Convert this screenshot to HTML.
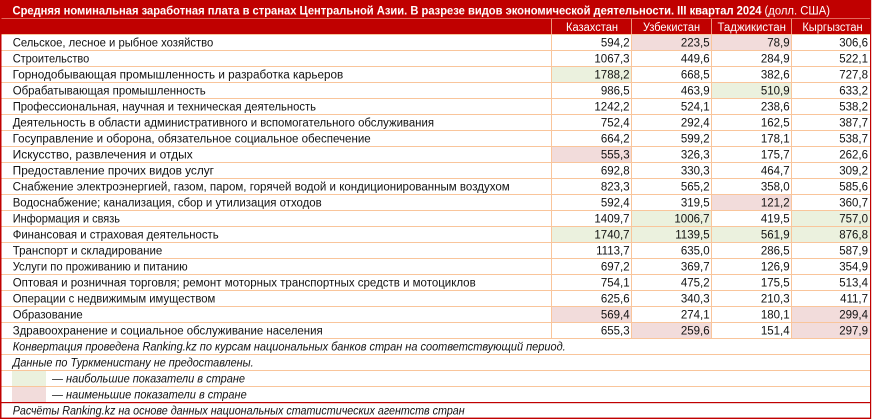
<!DOCTYPE html>
<html>
<head>
<meta charset="utf-8">
<style>
  html,body{margin:0;padding:0;background:#fff;}
  body{width:872px;height:419px;overflow:hidden;}
  svg{display:block;}
  text{font-family:"Liberation Sans","DejaVu Sans",sans-serif;font-size:11.5px;fill:#111;}
  .t{fill:#fff;font-weight:bold;}
  .tr{fill:#fff;font-weight:normal;}
  .h{fill:#fff;}
  .n{text-anchor:end;}
  .i{font-style:italic;}
</style>
</head>
<body>
<svg width="872" height="419" viewBox="0 0 872 419" xmlns="http://www.w3.org/2000/svg">
  <!-- background -->
  <rect x="0" y="0" width="872" height="419" fill="#fff"/>
  <!-- title + header -->
  <rect x="0" y="0" width="871" height="34" fill="#C00000"/>
  <rect x="0" y="18" width="871" height="1" fill="#E36C5E"/>
  <!-- header vertical separators -->
  <rect x="551" y="19" width="1" height="15" fill="#EE9A80"/>
  <rect x="631" y="19" width="1" height="15" fill="#EE9A80"/>
  <rect x="711" y="19" width="1" height="15" fill="#EE9A80"/>
  <rect x="791" y="19" width="1" height="15" fill="#EE9A80"/>

  <!-- highlighted cells -->
  <g>
    <!-- row 0 -->
    <rect x="632" y="35" width="79" height="15" fill="#F2DCDB"/>
    <rect x="712" y="35" width="79" height="15" fill="#F2DCDB"/>
    <!-- row 2 -->
    <rect x="552" y="67" width="79" height="15" fill="#EBF1DE"/>
    <!-- row 3 -->
    <rect x="712" y="83" width="79" height="15" fill="#EBF1DE"/>
    <!-- row 7 -->
    <rect x="552" y="147" width="79" height="15" fill="#F2DCDB"/>
    <!-- row 10 -->
    <rect x="712" y="195" width="79" height="15" fill="#F2DCDB"/>
    <!-- row 11 -->
    <rect x="632" y="211" width="79" height="15" fill="#EBF1DE"/>
    <rect x="792" y="211" width="78" height="15" fill="#EBF1DE"/>
    <!-- row 12 -->
    <rect x="552" y="227" width="79" height="15" fill="#EBF1DE"/>
    <rect x="632" y="227" width="79" height="15" fill="#EBF1DE"/>
    <rect x="712" y="227" width="79" height="15" fill="#EBF1DE"/>
    <rect x="792" y="227" width="78" height="15" fill="#EBF1DE"/>
    <!-- row 17 -->
    <rect x="552" y="307" width="79" height="15" fill="#F2DCDB"/>
    <rect x="792" y="307" width="78" height="15" fill="#F2DCDB"/>
    <!-- row 18 -->
    <rect x="632" y="323" width="79" height="15" fill="#F2DCDB"/>
    <rect x="792" y="323" width="78" height="15" fill="#F2DCDB"/>
    <!-- legend boxes -->
    <rect x="12" y="371" width="34" height="15" fill="#EBF1DE"/>
    <rect x="12" y="387" width="34" height="15" fill="#F2DCDB"/>
  </g>

  <!-- horizontal grid lines -->
  <g fill="#F9C59B">
    <rect x="0" y="34" width="870" height="1"/>
    <rect x="0" y="50" width="870" height="1"/>
    <rect x="0" y="66" width="870" height="1"/>
    <rect x="0" y="82" width="870" height="1"/>
    <rect x="0" y="98" width="870" height="1"/>
    <rect x="0" y="114" width="870" height="1"/>
    <rect x="0" y="130" width="870" height="1"/>
    <rect x="0" y="146" width="870" height="1"/>
    <rect x="0" y="162" width="870" height="1"/>
    <rect x="0" y="178" width="870" height="1"/>
    <rect x="0" y="194" width="870" height="1"/>
    <rect x="0" y="210" width="870" height="1"/>
    <rect x="0" y="226" width="870" height="1"/>
    <rect x="0" y="242" width="870" height="1"/>
    <rect x="0" y="258" width="870" height="1"/>
    <rect x="0" y="274" width="870" height="1"/>
    <rect x="0" y="290" width="870" height="1"/>
    <rect x="0" y="306" width="870" height="1"/>
    <rect x="0" y="322" width="870" height="1"/>
    <rect x="0" y="338" width="870" height="1"/>
    <rect x="0" y="354" width="870" height="1"/>
    <rect x="0" y="370" width="870" height="1"/>
    <rect x="0" y="386" width="870" height="1"/>
  </g>
  <!-- vertical grid lines (data) -->
  <g fill="#F9C59B">
    <rect x="551" y="34" width="1" height="305"/>
    <rect x="631" y="34" width="1" height="305"/>
    <rect x="711" y="34" width="1" height="305"/>
    <rect x="791" y="34" width="1" height="305"/>
  </g>
  <!-- red borders -->
  <g fill="#C00000">
    <rect x="0" y="0" width="1.5" height="419"/>
    <rect x="870" y="0" width="1.2" height="419"/>
    <rect x="0" y="402" width="871" height="1.2"/>
    <rect x="0" y="417.6" width="871" height="1.4"/>
  </g>

  <!-- title -->
  <text class="t" x="12.5" y="14.5" textLength="749" lengthAdjust="spacingAndGlyphs">Средняя номинальная заработная плата в странах Центральной Азии. В разрезе видов экономической деятельности. III квартал 2024</text>
  <text class="tr" x="764.5" y="14.5" textLength="65.5" lengthAdjust="spacingAndGlyphs">(долл. США)</text>

  <!-- header -->
  <text class="h" x="592" y="31" text-anchor="middle" textLength="52" lengthAdjust="spacingAndGlyphs">Казахстан</text>
  <text class="h" x="671.5" y="31" text-anchor="middle" textLength="57" lengthAdjust="spacingAndGlyphs">Узбекистан</text>
  <text class="h" x="751.7" y="31" text-anchor="middle" textLength="68.5" lengthAdjust="spacingAndGlyphs">Таджикистан</text>
  <text class="h" x="832.5" y="31" text-anchor="middle" textLength="60.3" lengthAdjust="spacingAndGlyphs">Кыргызстан</text>

  <!-- labels -->
  <g>
    <text x="12.7" y="46.3" textLength="200.6" lengthAdjust="spacingAndGlyphs">Сельское, лесное и рыбное хозяйство</text>
    <text x="12.7" y="62.3" textLength="76.6" lengthAdjust="spacingAndGlyphs">Строительство</text>
    <text x="12.7" y="78.3" textLength="330.6" lengthAdjust="spacingAndGlyphs">Горнодобывающая промышленность и разработка карьеров</text>
    <text x="12.7" y="94.3" textLength="193" lengthAdjust="spacingAndGlyphs">Обрабатывающая промышленность</text>
    <text x="12.7" y="110.3" textLength="303.3" lengthAdjust="spacingAndGlyphs">Профессиональная, научная и техническая деятельность</text>
    <text x="12.7" y="126.3" textLength="421.3" lengthAdjust="spacingAndGlyphs">Деятельность в области административного и вспомогательного обслуживания</text>
    <text x="12.7" y="142.3" textLength="358" lengthAdjust="spacingAndGlyphs">Госуправление и оборона, обязательное социальное обеспечение</text>
    <text x="12.7" y="158.3" textLength="180" lengthAdjust="spacingAndGlyphs">Искусство, развлечения и отдых</text>
    <text x="12.7" y="174.3" textLength="201.3" lengthAdjust="spacingAndGlyphs">Предоставление прочих видов услуг</text>
    <text x="12.7" y="190.3" textLength="497" lengthAdjust="spacingAndGlyphs">Снабжение электроэнергией, газом, паром, горячей водой и кондиционированным воздухом</text>
    <text x="12.7" y="206.3" textLength="309" lengthAdjust="spacingAndGlyphs">Водоснабжение; канализация, сбор и утилизация отходов</text>
    <text x="12.7" y="222.3" textLength="107.3" lengthAdjust="spacingAndGlyphs">Информация и связь</text>
    <text x="12.7" y="238.3" textLength="206" lengthAdjust="spacingAndGlyphs">Финансовая и страховая деятельность</text>
    <text x="12.7" y="254.3" textLength="149.6" lengthAdjust="spacingAndGlyphs">Транспорт и складирование</text>
    <text x="12.7" y="270.3" textLength="175" lengthAdjust="spacingAndGlyphs">Услуги по проживанию и питанию</text>
    <text x="12.7" y="286.3" textLength="463" lengthAdjust="spacingAndGlyphs">Оптовая и розничная торговля; ремонт моторных транспортных средств и мотоциклов</text>
    <text x="12.7" y="302.3" textLength="202.6" lengthAdjust="spacingAndGlyphs">Операции с недвижимым имуществом</text>
    <text x="12.7" y="318.3" textLength="70" lengthAdjust="spacingAndGlyphs">Образование</text>
    <text x="12.7" y="334.3" textLength="310" lengthAdjust="spacingAndGlyphs">Здравоохранение и социальное обслуживание населения</text>
  </g>

  <!-- numbers: Kazakhstan -->
  <g class="n">
    <text class="n" x="629.6" y="46.3">594,2</text>
    <text class="n" x="629.6" y="62.3">1067,3</text>
    <text class="n" x="629.6" y="78.3">1788,2</text>
    <text class="n" x="629.6" y="94.3">986,5</text>
    <text class="n" x="629.6" y="110.3">1242,2</text>
    <text class="n" x="629.6" y="126.3">752,4</text>
    <text class="n" x="629.6" y="142.3">664,2</text>
    <text class="n" x="629.6" y="158.3">555,3</text>
    <text class="n" x="629.6" y="174.3">692,8</text>
    <text class="n" x="629.6" y="190.3">823,3</text>
    <text class="n" x="629.6" y="206.3">592,4</text>
    <text class="n" x="629.6" y="222.3">1409,7</text>
    <text class="n" x="629.6" y="238.3">1740,7</text>
    <text class="n" x="629.6" y="254.3">1113,7</text>
    <text class="n" x="629.6" y="270.3">697,2</text>
    <text class="n" x="629.6" y="286.3">754,1</text>
    <text class="n" x="629.6" y="302.3">625,6</text>
    <text class="n" x="629.6" y="318.3">569,4</text>
    <text class="n" x="629.6" y="334.3">655,3</text>
  </g>
  <!-- Uzbekistan -->
  <g>
    <text class="n" x="709.6" y="46.3">223,5</text>
    <text class="n" x="709.6" y="62.3">449,6</text>
    <text class="n" x="709.6" y="78.3">668,5</text>
    <text class="n" x="709.6" y="94.3">463,9</text>
    <text class="n" x="709.6" y="110.3">524,1</text>
    <text class="n" x="709.6" y="126.3">292,4</text>
    <text class="n" x="709.6" y="142.3">599,2</text>
    <text class="n" x="709.6" y="158.3">326,3</text>
    <text class="n" x="709.6" y="174.3">330,3</text>
    <text class="n" x="709.6" y="190.3">565,2</text>
    <text class="n" x="709.6" y="206.3">319,5</text>
    <text class="n" x="709.6" y="222.3">1006,7</text>
    <text class="n" x="709.6" y="238.3">1139,5</text>
    <text class="n" x="709.6" y="254.3">635,0</text>
    <text class="n" x="709.6" y="270.3">369,7</text>
    <text class="n" x="709.6" y="286.3">475,2</text>
    <text class="n" x="709.6" y="302.3">340,3</text>
    <text class="n" x="709.6" y="318.3">274,1</text>
    <text class="n" x="709.6" y="334.3">259,6</text>
  </g>
  <!-- Tajikistan -->
  <g>
    <text class="n" x="789.6" y="46.3">78,9</text>
    <text class="n" x="789.6" y="62.3">284,9</text>
    <text class="n" x="789.6" y="78.3">382,6</text>
    <text class="n" x="789.6" y="94.3">510,9</text>
    <text class="n" x="789.6" y="110.3">238,6</text>
    <text class="n" x="789.6" y="126.3">162,5</text>
    <text class="n" x="789.6" y="142.3">178,1</text>
    <text class="n" x="789.6" y="158.3">175,7</text>
    <text class="n" x="789.6" y="174.3">464,7</text>
    <text class="n" x="789.6" y="190.3">358,0</text>
    <text class="n" x="789.6" y="206.3">121,2</text>
    <text class="n" x="789.6" y="222.3">419,5</text>
    <text class="n" x="789.6" y="238.3">561,9</text>
    <text class="n" x="789.6" y="254.3">286,5</text>
    <text class="n" x="789.6" y="270.3">126,9</text>
    <text class="n" x="789.6" y="286.3">175,5</text>
    <text class="n" x="789.6" y="302.3">210,3</text>
    <text class="n" x="789.6" y="318.3">180,1</text>
    <text class="n" x="789.6" y="334.3">151,4</text>
  </g>
  <!-- Kyrgyzstan -->
  <g>
    <text class="n" x="868" y="46.3">306,6</text>
    <text class="n" x="868" y="62.3">522,1</text>
    <text class="n" x="868" y="78.3">727,8</text>
    <text class="n" x="868" y="94.3">633,2</text>
    <text class="n" x="868" y="110.3">538,2</text>
    <text class="n" x="868" y="126.3">387,7</text>
    <text class="n" x="868" y="142.3">538,7</text>
    <text class="n" x="868" y="158.3">262,6</text>
    <text class="n" x="868" y="174.3">309,2</text>
    <text class="n" x="868" y="190.3">585,6</text>
    <text class="n" x="868" y="206.3">360,7</text>
    <text class="n" x="868" y="222.3">757,0</text>
    <text class="n" x="868" y="238.3">876,8</text>
    <text class="n" x="868" y="254.3">587,9</text>
    <text class="n" x="868" y="270.3">354,9</text>
    <text class="n" x="868" y="286.3">513,4</text>
    <text class="n" x="868" y="302.3">411,7</text>
    <text class="n" x="868" y="318.3">299,4</text>
    <text class="n" x="868" y="334.3">297,9</text>
  </g>

  <!-- notes -->
  <text class="i" x="12.7" y="350.3" textLength="553" lengthAdjust="spacingAndGlyphs">Конвертация проведена Ranking.kz по курсам национальных банков стран на соответствующий период.</text>
  <text class="i" x="12.7" y="366.3" textLength="241" lengthAdjust="spacingAndGlyphs">Данные по Туркменистану не предоставлены.</text>
  <text class="i" x="52" y="382.3" textLength="193" lengthAdjust="spacingAndGlyphs">— наибольшие показатели в стране</text>
  <text class="i" x="52" y="398.3" textLength="194.7" lengthAdjust="spacingAndGlyphs">— наименьшие показатели в стране</text>
  <text class="i" x="12.7" y="414.3" textLength="452" lengthAdjust="spacingAndGlyphs">Расчёты Ranking.kz на основе данных национальных статистических агентств стран</text>
</svg>
</body>
</html>
